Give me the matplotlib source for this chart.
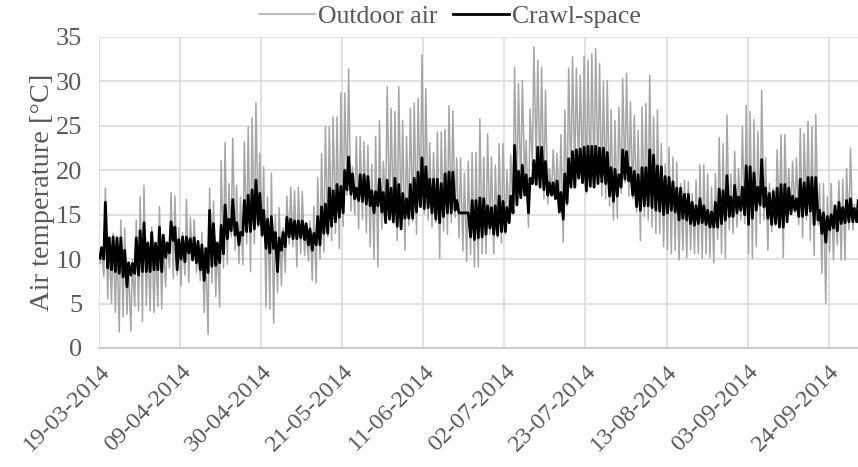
import numpy as np
import pandas as pd
import matplotlib
matplotlib.use("Agg")
import matplotlib.pyplot as plt
import matplotlib.dates as mdates

start = pd.Timestamp("2014-03-19")

# daily extremes, one value per day from 19-03-2014
outdoor_max = [
    11, 18, 12, 12.9, 12, 14.4, 13.5, 9.5, 10, 14.4,
    17, 18.3, 12, 13.6, 11.5, 15.9, 12.5, 12, 17.5, 17.1,
    13.5, 13, 16.7, 14.7, 14.4, 11.5, 13, 11, 18, 16.5,
    12, 21.1, 23.1, 18.5, 23.6, 18.3, 17, 23.2, 24.9, 25.9,
    27.6, 21.9, 20.4, 17, 19.7, 15, 15.8, 13.5, 17.1, 18.1,
    17.7, 18.1, 17.6, 13.6, 14.3, 15.9, 19.2, 21.9, 24.9, 24.9,
    26, 26, 28.7, 28.7, 31.4, 20.4, 23.8, 23.8, 23.2, 22.8,
    20.7, 23.8, 25.6, 21, 29.4, 27, 26.6, 29.4, 25.6, 23.8,
    27, 27.6, 28.1, 33, 29.2, 23.1, 22, 24.3, 24.3, 24.6,
    27.3, 26.7, 21.4, 21.4, 19.7, 21, 22, 22, 25.8, 21.5,
    24.1, 21.5, 20.6, 23, 23, 20, 21.7, 31.6, 29.8, 30.1,
    23.4, 26.9, 33.9, 32.4, 31.6, 29, 20.2, 22.3, 21.9, 24,
    26.8, 31.5, 32.8, 31.5, 30.7, 32.8, 32.4, 33.1, 33.7, 32,
    30, 30.1, 26.8, 25.6, 27.1, 30.3, 30.9, 27.7, 26.2, 24.5,
    27.1, 27.5, 30.7, 26, 26.8, 23, 20.7, 22.6, 21.5, 20.9,
    18.5, 18.9, 18.7, 17.4, 18.9, 20.6, 20.6, 19.6, 18.1, 19.6,
    23.7, 23, 26.2, 19.6, 22.1, 20.2, 24.9, 27.3, 26.6, 25.7,
    24.4, 29, 21.4, 18.5, 18, 22.3, 24, 24, 20.2, 21,
    21.4, 24.7, 24.1, 25.5, 24.9, 26.3, 18.5, 18.5, 17, 18.5,
    15.9, 18.8, 19, 20.2, 22.5, 16.2, 16.6]
outdoor_min = [
    9.5, 8, 5.5, 5, 4, 1.8, 3.5, 3.8, 1.9, 4.7,
    4.2, 3, 4.8, 4.2, 4, 4.7, 4.4, 6.9, 9, 7.8,
    8.2, 7, 8.2, 7.4, 9.9, 8.5, 7.6, 4, 1.5, 7.3,
    5.8, 4.6, 9, 9.4, 12.5, 11, 9.5, 9.4, 11.7, 8.6,
    11.7, 13.6, 12.5, 4.6, 4.4, 2.8, 6.2, 7, 8.5, 11.7,
    11.4, 9.1, 10.6, 10.4, 9.8, 7.6, 7.3, 10, 10.8, 12.5,
    12.1, 12.9, 11.2, 13.7, 17.2, 15.4, 15, 13.4, 14.5, 13,
    11.4, 10, 9.1, 13.4, 15.9, 14.4, 14, 12.1, 13.8, 11,
    13.8, 14.2, 12.8, 15.9, 15.1, 14.4, 13.6, 14.1, 10.1, 13.2,
    12.8, 14.1, 14.7, 12.4, 10.9, 9.7, 10.5, 9.1, 9.1, 10.6,
    10.6, 12.8, 10.6, 12.4, 11.8, 12.8, 14.3, 15.2, 16.2, 17.4,
    18.9, 13.6, 20.4, 20.7, 18.3, 16.8, 16.2, 17.5, 16.8, 16,
    11.9, 16, 18.3, 19.2, 19.5, 18.7, 17.4, 18.1, 18.9, 18.5,
    17.1, 16.8, 16, 14.4, 14.6, 17.4, 18.6, 17.1, 16.8, 15.3,
    12.1, 14.8, 14.4, 13.6, 12.9, 12.9, 11.4, 11, 10.6, 11,
    9.9, 11, 10.2, 11, 10.6, 10.6, 10.1, 10.6, 10.2, 9.6,
    12.2, 10.6, 10.1, 13.3, 12.9, 13.6, 14.4, 14, 10.6, 10.1,
    11.4, 14, 14.4, 11, 13.1, 13.7, 14.3, 10.2, 14.4, 15,
    15.2, 13.9, 12.4, 14.4, 12.1, 10.4, 13.9, 8.4, 5, 10.8,
    9.9, 11.6, 9.9, 9.9, 13.3, 13.3, 14.4]
crawl_max = [
    11.3, 16.4, 12.4, 12.5, 12.4, 12.4, 11, 9.6, 9.5, 12.4,
    13.2, 14.1, 11.8, 13, 11.8, 13.6, 12.7, 11.8, 14.2, 13.6,
    12.2, 12.5, 12.5, 12.3, 12.4, 12, 11.6, 11.2, 15.5, 14,
    11.8, 13.8, 16.1, 14.5, 16.7, 14.1, 13, 16.6, 17.2, 17.8,
    18.9, 17.4, 15.5, 14.5, 14.8, 13, 12.4, 13, 14.7, 14.5,
    14.3, 14.3, 14.3, 14, 13.4, 12.9, 14.8, 15.9, 16.2, 18,
    17.7, 18.4, 18.2, 20, 21.5, 19.6, 18, 19.5, 19.5, 19.3,
    17.7, 17.6, 19, 17.5, 18.9, 18, 19.1, 18.4, 17.4, 16.8,
    18.4, 19.1, 19.8, 21.4, 20.4, 19, 19, 19, 18.5, 19.6,
    19.8, 19.8, 16.6, 15.2, 15.2, 15.2, 16.6, 16.6, 16.9, 16.8,
    16, 15.8, 16, 17.1, 16.5, 15.8, 17.1, 22.8, 19.9, 20.6,
    19.5, 19.1, 21.1, 22.6, 22.6, 21, 18.6, 18.6, 18.8, 17.5,
    19.6, 21.3, 22.1, 22.3, 22.4, 22.6, 22.7, 22.7, 22.7, 22.5,
    22.5, 22, 20.3, 20.1, 19.5, 22.3, 22.1, 20.3, 19.9, 19.5,
    20.3, 20.3, 22.3, 21.7, 20.5, 20.4, 19.3, 19.2, 18.7, 18,
    18, 17.3, 17.3, 16.4, 16, 16.8, 16, 15.5, 15.3, 16.4,
    17.9, 17.7, 19.4, 17, 18.3, 17, 18.1, 20.5, 20.4, 19.7,
    18.1, 21.2, 18, 17.4, 17.6, 18, 18.4, 18.4, 18, 17.1,
    16.8, 19, 18.6, 19.2, 19.2, 19.2, 15.5, 15.2, 14.8, 15,
    16, 16.4, 15.8, 16.6, 16.8, 15.7, 16.6]
crawl_min = [
    10.1, 10, 9, 8.8, 8.6, 8.4, 8, 6.9, 8.2, 8.4,
    8.2, 8.6, 8.6, 8.6, 8.8, 8.8, 8.6, 10.2, 10.7, 12.1,
    8.8, 10, 9.7, 10.7, 9.9, 9.6, 8.8, 7.6, 8.5, 9.2,
    9.3, 9.6, 10.6, 12.3, 13.2, 12.7, 11.6, 12.7, 13.1, 13.1,
    13.4, 13.9, 12.7, 11.2, 10.7, 11.2, 8.6, 11, 11.4, 12.5,
    12.3, 12.3, 12.4, 12.2, 11.6, 11, 11.6, 11.6, 12.9, 12.9,
    13.7, 14.2, 14.7, 15.2, 17.8, 17.3, 16.8, 16.6, 16.5, 16.2,
    16, 15.2, 16, 15.3, 14.1, 14.5, 14.2, 13.7, 13.4, 14.6,
    14.6, 14.6, 15.3, 15.9, 15.7, 15.8, 15.2, 14.5, 14.1, 14.8,
    15.2, 15.2, 15.5, 15.2, 15.2, 15.2, 12.5, 12.2, 12.4, 12.5,
    12.8, 13.5, 12.8, 12.7, 13.1, 13.1, 14.1, 15.2, 16.1, 16.9,
    17.2, 15.2, 18.5, 18.4, 18.1, 17.8, 17.2, 17.2, 16.8, 15.3,
    14.5, 16.3, 18.1, 18.1, 19.1, 18.6, 17.7, 18.2, 18.1, 18.5,
    18.7, 18.5, 17.1, 16.5, 17.1, 18.1, 19, 18.8, 17.2, 15.9,
    15.5, 16, 16, 15.8, 15.5, 15.4, 15, 15.2, 15.5, 15.3,
    14.4, 14.6, 14.4, 14, 13.8, 14, 14.1, 13.9, 13.6, 13.6,
    13.6, 14, 14.4, 14.8, 14.8, 15.2, 15.5, 15, 13.9, 14.6,
    15.5, 16.1, 15.9, 14.6, 13.9, 14, 13.6, 13.6, 14.2, 15.1,
    15.5, 14.8, 14.8, 15, 15.4, 13.9, 14.4, 12.9, 11.9, 13.3,
    13.5, 13.2, 14, 14.1, 14.2, 14.2, 14.2]

y_ticks = [0, 5, 10, 15, 20, 25, 30, 35]
tick_step_days = 21

plt.rcParams['font.family'] = ['Liberation Serif', 'DejaVu Serif']
txt_col = "#595959"
grid_col = "#d9d9d9"


def zigzag(lo, hi):
    # night minimum, afternoon maximum for every day
    days = np.arange(len(lo))
    t = np.column_stack([days + 0.25, days + 0.65]).ravel()
    v = np.column_stack([lo, hi]).ravel()
    dates = start + pd.to_timedelta(t, unit="D")
    return mdates.date2num(dates.to_pydatetime()), v


fig = plt.figure(figsize=(8.58, 4.67), dpi=100)
ax = fig.add_axes([99 / 858, 1 - 348 / 467, 759 / 858, 311 / 467])

t_o, v_o = zigzag(outdoor_min, outdoor_max)
t_c, v_c = zigzag(crawl_min, crawl_max)
ax.plot(t_o, v_o, color="#a6a6a6", lw=1.1, label="Outdoor air", zorder=3)
ax.plot(t_c, v_c, color="black", lw=2.0, label="Crawl-space", zorder=4)

x0 = mdates.date2num(start.to_pydatetime())
ax.set_xlim(x0, x0 + 196.6)
ax.set_ylim(0, 35)
ax.set_yticks(y_ticks)
xt = [x0 + tick_step_days * k for k in range(10)]
ax.set_xticks(xt)
ax.xaxis.set_major_formatter(mdates.DateFormatter("%d-%m-%Y"))

ax.grid(True, color=grid_col, lw=1.1, zorder=0)
ax.set_axisbelow(True)
for s in ["top", "right", "left"]:
    ax.spines[s].set_visible(False)
ax.spines["bottom"].set_color("#bfbfbf")
ax.spines["bottom"].set_linewidth(1.1)
ax.tick_params(axis="x", length=0, labelsize=17.5, labelcolor=txt_col, pad=9)
ax.tick_params(axis="y", length=0, labelsize=19, labelcolor=txt_col, pad=12)
for lab in ax.get_xticklabels():
    lab.set_rotation(45)
    lab.set_ha("right")
    lab.set_rotation_mode("anchor")

ax.set_ylabel("Air temperature [°C]", fontsize=20.5, color=txt_col, labelpad=1)

fig.legend(loc="center", bbox_to_anchor=(0.524, 1 - 17 / 467), ncol=2,
           frameon=False, fontsize=18.5, handlelength=2.2, handletextpad=0.1,
           columnspacing=0.6, labelcolor=txt_col)

fig.savefig("out.png", dpi=100)
